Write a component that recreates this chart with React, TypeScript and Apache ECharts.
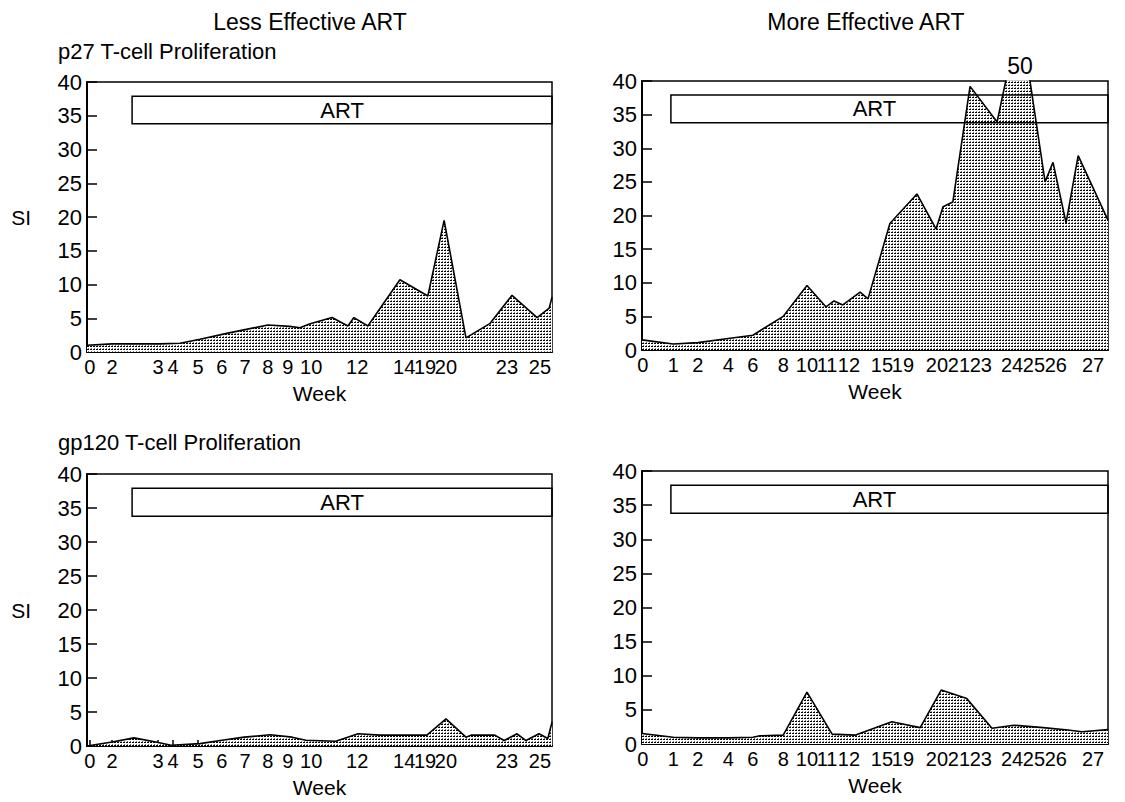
import React, { useEffect, useRef } from 'react';
import * as echarts from 'echarts';

// ---------- data ----------
const Y_MIN = 0;
const Y_MAX = 40;
const Y_STEP = 5;
const ART_LOW = 33.8;
const ART_HIGH = 37.9;

// x axis: position along the visit timeline (0-100), labelled with the week of each visit
const lessWeekPos = [0.6, 5.4, 15.3, 18.5, 23.9, 29.0, 34.0, 38.9, 43.2, 48.2, 58.1, 68.2, 72.7, 77.2, 90.3, 97.4];
const lessWeekLabels = ['0', '2', '3', '4', '5', '6', '7', '8', '9', '10', '12', '14', '19', '20', '23', '25'];
const moreWeekPos = [0.2, 6.7, 12.0, 18.5, 23.8, 30.3, 35.4, 39.7, 44.4, 51.5, 56.0, 63.3, 68.0, 72.7, 79.4, 84.1, 88.8, 96.8];
const moreWeekLabels = ['0', '1', '2', '4', '6', '8', '10', '11', '12', '15', '19', '20', '21', '23', '24', '25', '26', '27'];

const artStartLess = 9.7;
const artStartMore = 6.2;

const p27LessT = [0, 5.4, 15.7, 20.0, 24.3, 30.3, 38.9, 43.6, 45.8, 48.0, 52.7, 56.1, 57.4, 60.4, 67.3, 73.3, 76.8, 81.5, 86.7, 91.4, 96.8, 99.4, 100];
const p27LessSI = [1.0, 1.2, 1.2, 1.3, 1.9, 2.8, 4.0, 3.8, 3.6, 4.2, 5.1, 3.85, 5.1, 3.85, 10.7, 8.3, 19.5, 2.1, 4.25, 8.4, 5.1, 6.5, 8.1];

const p27MoreT = [0, 6.7, 12.0, 18.5, 23.8, 30.3, 35.4, 39.5, 41.2, 43.1, 46.8, 48.5, 53.2, 59.0, 63.1, 64.6, 66.7, 70.4, 76.2, 81.1, 86.5, 88.2, 91.0, 93.6, 100];
const p27MoreSI = [1.5, 0.9, 1.1, 1.7, 2.2, 5.0, 9.6, 6.4, 7.3, 6.7, 8.6, 7.6, 18.8, 23.2, 18.0, 21.3, 22.0, 39.2, 33.9, 50, 25.0, 27.9, 18.9, 28.9, 19.3];

const gp120LessT = [0, 5.4, 10.1, 14.8, 18.1, 24.3, 29.0, 33.8, 39.4, 44.1, 47.1, 53.5, 58.3, 63.0, 73.1, 77.2, 81.5, 82.6, 87.7, 89.7, 92.5, 94.4, 97.2, 99.1, 100];
const gp120LessSI = [0, 0.6, 1.2, 0.6, 0.1, 0.35, 0.85, 1.3, 1.65, 1.3, 0.85, 0.7, 1.8, 1.6, 1.6, 4.0, 1.3, 1.6, 1.6, 0.8, 1.8, 0.8, 1.8, 1.1, 3.5];

const gp120MoreT = [0, 6.7, 12.0, 18.5, 23.8, 25.3, 30.3, 35.4, 40.8, 45.7, 53.6, 59.7, 64.2, 69.7, 75.1, 79.8, 86.1, 91.4, 94.4, 100];
const gp120MoreSI = [1.55, 1.0, 0.9, 0.9, 1.0, 1.2, 1.3, 7.6, 1.45, 1.3, 3.25, 2.4, 7.9, 6.65, 2.3, 2.75, 2.4, 2.05, 1.8, 2.1];

// ---------- layout ----------
const FONT = '"Liberation Sans", Arial, Helvetica, sans-serif';

const panels = [
  { grid: { left: 87, top: 82, width: 465, height: 270 }, t: p27LessT, si: p27LessSI, pos: lessWeekPos, labels: lessWeekLabels, art: artStartLess, artOffset: 0, si_name: true },
  { grid: { left: 642, top: 81, width: 466, height: 269 }, t: p27MoreT, si: p27MoreSI, pos: moreWeekPos, labels: moreWeekLabels, art: artStartMore, artOffset: -15, si_name: false },
  { grid: { left: 87, top: 474, width: 465, height: 272 }, t: gp120LessT, si: gp120LessSI, pos: lessWeekPos, labels: lessWeekLabels, art: artStartLess, artOffset: 0, si_name: true },
  { grid: { left: 642, top: 471, width: 466, height: 273 }, t: gp120MoreT, si: gp120MoreSI, pos: moreWeekPos, labels: moreWeekLabels, art: artStartMore, artOffset: -15, si_name: false },
];

function makePattern(): any {
  const c = document.createElement('canvas');
  c.width = 3;
  c.height = 3;
  const ctx = c.getContext('2d')!;
  ctx.fillStyle = '#ffffff';
  ctx.fillRect(0, 0, 3, 3);
  ctx.fillStyle = '#000000';
  ctx.fillRect(0, 1, 2, 1);
  ctx.fillStyle = '#777777';
  ctx.fillRect(1, 0, 1, 1);
  return { image: c.toDataURL(), repeat: 'repeat', imageWidth: 3, imageHeight: 3 };
}

export default function App() {
  const ref = useRef<HTMLDivElement>(null);

  useEffect(() => {
    if (!ref.current) return;
    const chart = echarts.init(ref.current, null, { renderer: 'svg' });
    const pattern = makePattern();

    const txt = { color: '#000', fontFamily: FONT };

    const grids = panels.map((p) => ({
      ...p.grid,
      show: true,
      borderColor: '#000',
      borderWidth: 1.5,
      backgroundColor: 'transparent',
      containLabel: false,
      outerBoundsMode: 'none',
    }));

    const xAxes = panels.map((p, i) => ({
      type: 'value',
      gridIndex: i,
      min: 0,
      max: 100,
      splitLine: { show: false },
      axisLine: { show: true, onZero: false, lineStyle: { color: '#000', width: 2 } },
      axisTick: { show: true, inside: true, length: 6, customValues: p.pos, lineStyle: { color: '#000', width: 1.5 } },
      axisLabel: {
        ...txt,
        fontSize: 20,
        margin: 5,
        hideOverlap: false,
        customValues: p.pos,
        formatter: (v: number) => {
          const k = p.pos.findIndex((q) => Math.abs(q - v) < 1e-6);
          return k >= 0 ? p.labels[k] : '';
        },
      },
      name: 'Week',
      nameLocation: 'middle',
      nameGap: 31,
      nameTextStyle: { ...txt, fontSize: 21 },
    }));

    const yAxes = panels.map((p, i) => ({
      type: 'value',
      gridIndex: i,
      min: Y_MIN,
      max: Y_MAX,
      interval: Y_STEP,
      splitLine: { show: false },
      axisLine: { show: true, lineStyle: { color: '#000', width: 2 } },
      axisTick: { show: true, inside: true, length: 10, lineStyle: { color: '#000', width: 1.5 } },
      axisLabel: { ...txt, fontSize: 22, margin: 5 },
      name: p.si_name ? 'SI' : '',
      nameLocation: 'middle',
      nameRotate: 0,
      nameGap: 56,
      nameTextStyle: { ...txt, fontSize: 21 },
    }));

    const series = panels.map((p, i) => {
      const data = p.t.map((x, k) => [x, p.si[k]]);
      const overflow = data.filter((d) => d[1] > Y_MAX).map((d) => ({ coord: [d[0], Y_MAX], value: d[1] }));
      return {
        type: 'line',
        xAxisIndex: i,
        yAxisIndex: i,
        data,
        showSymbol: false,
        clip: true,
        z: 2,
        lineStyle: { color: '#000', width: 1.6 },
        areaStyle: { color: pattern, opacity: 1, origin: 'start' },
        markArea: {
          silent: true,
          z: 10,
          itemStyle: { color: 'rgba(0,0,0,0)', borderColor: '#000', borderWidth: 1.5 },
          label: { show: true, position: 'inside', formatter: 'ART', offset: [p.artOffset, 0], ...txt, fontSize: 22 },
          data: [[{ xAxis: p.art, yAxis: ART_LOW }, { xAxis: 100, yAxis: ART_HIGH }]],
        },
        markPoint: overflow.length
          ? {
              symbol: 'circle',
              symbolSize: 0,
              silent: true,
              label: { show: true, position: 'top', distance: 4, formatter: '{c}', ...txt, fontSize: 23 },
              data: overflow,
            }
          : undefined,
      };
    });

    const textEl = (text: string, x: number, y: number, align: string, size: number) => ({
      type: 'text',
      x,
      y,
      style: { text, fill: '#000', font: `${size}px ${FONT}`, textAlign: align, textVerticalAlign: 'middle' },
    });

    chart.setOption({
      animation: false,
      backgroundColor: '#fff',
      grid: grids,
      xAxis: xAxes,
      yAxis: yAxes,
      series,
      graphic: [
        textEl('Less Effective ART', 310, 22, 'center', 23),
        textEl('More Effective ART', 866, 22, 'center', 23),
        textEl('p27 T-cell Proliferation', 58, 51, 'left', 22),
        textEl('gp120 T-cell Proliferation', 58, 442, 'left', 22),
      ],
    } as any);

    return () => chart.dispose();
  }, []);

  return (
    <div
      ref={ref}
      style={{ position: 'fixed', left: 0, top: 0, width: 1125, height: 802, background: '#fff' }}
    />
  );
}
